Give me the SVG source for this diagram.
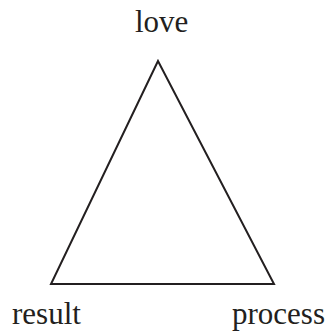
<svg xmlns="http://www.w3.org/2000/svg" width="327" height="331" viewBox="0 0 327 331">
<style>
.lbl{font-family:"Liberation Serif","Times New Roman",serif;font-size:31px;fill:#231f20}
.edge{stroke:#231f20;stroke-width:2;fill:none;stroke-linejoin:miter}
</style>
<rect width="327" height="331" fill="#fff"/>
<g id="connectors">
<polygon class="edge" points="158,61 51,284 274,284"/>
</g>
<g id="love"><text class="lbl" x="135" y="32">love</text></g>
<g id="result"><text class="lbl" x="12" y="324">result</text></g>
<g id="process"><text class="lbl" x="232" y="324">process</text></g>
</svg>
